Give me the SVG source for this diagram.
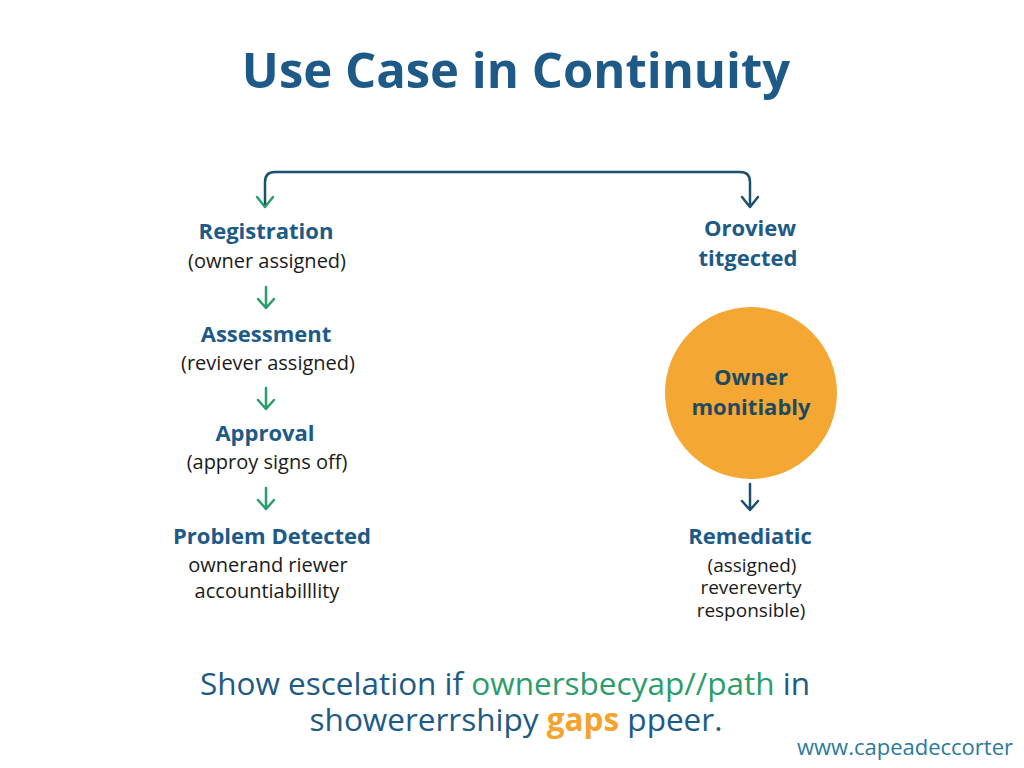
<svg xmlns="http://www.w3.org/2000/svg" width="1024" height="768" viewBox="0 0 1024 768">
<defs>
<style>
.title{font-family:"Open Sans","Liberation Sans",sans-serif;font-weight:700;font-size:49px;fill:#1d5a87;text-anchor:middle}
.h{font-family:"Open Sans","Liberation Sans",sans-serif;font-weight:700;font-size:22px;fill:#1d5a87;text-anchor:middle}
.s{font-family:"Open Sans","Liberation Sans",sans-serif;font-size:20px;fill:#1a1a1a;text-anchor:middle}
.t{font-family:"Open Sans","Liberation Sans",sans-serif;font-size:19px;fill:#1a1a1a;text-anchor:middle}
.c{font-family:"Open Sans","Liberation Sans",sans-serif;font-weight:700;font-size:22px;fill:#1e4a60;text-anchor:middle}
.b{font-family:"Open Sans","Liberation Sans",sans-serif;font-size:31.5px;fill:#1d5a87;text-anchor:middle}
.g{fill:#2a9d6a}
.o{fill:#f5a32e;font-weight:700}
.w{font-family:"Open Sans","Liberation Sans",sans-serif;font-size:22px;fill:#2b7a9a}
.ag{fill:none;stroke:#2a9d6a;stroke-width:2.5;stroke-linecap:round;stroke-linejoin:round}
.ab{fill:none;stroke:#1d4f70;stroke-width:2.5;stroke-linecap:round;stroke-linejoin:round}
</style>
</defs>
<rect width="1024" height="768" fill="#ffffff"/>
<text class="title" x="516" y="88">Use Case in Continuity</text>
<g id="connectors">
<path d="M265 207 V182 Q265 172 275 172 H740 Q750 172 750 182 V207" fill="none" stroke="#1d4f70" stroke-width="2.5"/>
<path class="ag" d="M257 197 L265 207 L273 197"/>
<path class="ab" d="M742 197 L750 207 L758 197"/>
<path class="ag" d="M266 287 V308 M258 299 L266 308 L274 299"/>
<path class="ag" d="M266 388 V409 M258 400 L266 409 L274 400"/>
<path class="ag" d="M266 488 V509 M258 500 L266 509 L274 500"/>
<path class="ab" d="M750 484 V510 M742 501 L750 510 L758 501"/>
</g>
<g id="registration">
<text class="h" x="266" y="239">Registration</text>
<text class="s" x="267" y="268">(owner assigned)</text>
</g>
<g id="assessment">
<text class="h" x="266" y="342">Assessment</text>
<text class="s" x="268" y="370">(reviever assigned)</text>
</g>
<g id="approval">
<text class="h" x="265" y="441">Approval</text>
<text class="s" x="267" y="469">(approy signs off)</text>
</g>
<g id="problem">
<text class="h" x="272" y="544">Problem Detected</text>
<text class="s" x="268" y="572">ownerand riewer</text>
<text class="s" x="267" y="598">accountiabilllity</text>
</g>
<g id="oroview">
<text class="h" x="750" y="236">Oroview</text>
<text class="h" x="748" y="266">titgected</text>
</g>
<g id="owner">
<circle cx="751" cy="393" r="86" fill="#f5a734"/>
<text class="c" x="751" y="385">Owner</text>
<text class="c" x="751" y="415">monitiably</text>
</g>
<g id="remediatic">
<text class="h" x="750" y="544">Remediatic</text>
<text class="t" x="752" y="572">(assigned)</text>
<text class="t" x="751" y="594">revereverty</text>
<text class="t" x="751" y="617">responsible)</text>
</g>
<text class="b" x="505" y="695">Show escelation if <tspan class="g">ownersbecyap//path</tspan> in</text>
<text class="b" x="516" y="731">showererrshipy <tspan class="o">gaps</tspan> ppeer.</text>
<text class="w" x="797" y="755">www.capeadeccorter</text>
</svg>
